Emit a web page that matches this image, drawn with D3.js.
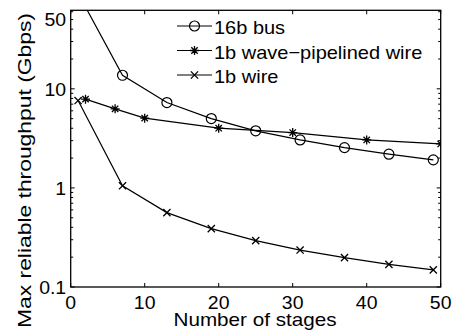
<!DOCTYPE html>
<html>
<head>
<meta charset="utf-8">
<script src="https://cdn.jsdelivr.net/npm/d3@7"></script>
<style>
  body { margin: 0; background: #fff; }
  text { font-family: "Liberation Sans", Arial, sans-serif; fill: #000; }
</style>
</head>
<body>
<svg id="chart" width="454" height="333"></svg>
<script>
// data
const busStages = [1, 7, 13, 19, 25, 31, 37, 43, 49];
const busValues = [92, 13.7, 7.27, 5.01, 3.77, 3.05, 2.55, 2.19, 1.92];
const waveStages = [2, 6, 10, 20, 30, 40, 50];
const waveValues = [7.87, 6.28, 5.06, 4.01, 3.62, 3.05, 2.78];
const wireStages = [1, 7, 13, 19, 25, 31, 37, 43, 49];
const wireValues = [7.62, 1.05, 0.563, 0.388, 0.294, 0.236, 0.198, 0.169, 0.149];
const xTicks = [0, 10, 20, 30, 40, 50];
const yTickLabels = [0.1, 1, 10, 50];
const seriesNames = ["16b bus", "1b wave\u2212pipelined wire", "1b wire"];

const svg = d3.select("#chart");
const pLeft = 70.7, pRight = 440.7, pTop = 10.3, pBottom = 287;
const stretch = 1.08; // reference text is a little wider than Arial

const x = d3.scaleLinear().domain([0, 50]).range([pLeft, pRight]);
const y = d3.scaleLog().domain([0.1, 62]).range([pBottom, pTop]);

function widen(sel) {
  sel.each(function() {
    let w = this.getComputedTextLength();
    d3.select(this).attr("textLength", w * stretch).attr("lengthAdjust", "spacingAndGlyphs");
  });
}

// minor log ticks 2..9 per decade, plus majors
let yMinor = [];
[0.1, 1, 10].forEach(d => { for (let k = 1; k <= 9; k++) if (d * k <= 62) yMinor.push(d * k); });

const axes = svg.append("g");
// ticks (inside, on all four sides)
xTicks.forEach(t => {
  axes.append("line").attr("x1", x(t)).attr("x2", x(t)).attr("y1", pBottom).attr("y2", pBottom - 4)
    .attr("stroke", "#000");
  axes.append("line").attr("x1", x(t)).attr("x2", x(t)).attr("y1", pTop).attr("y2", pTop + 4)
    .attr("stroke", "#000");
});
yMinor.forEach((t, i) => {
  let major = i % 9 === 0;
  let len = major ? 4 : 2.5;
  axes.append("line").attr("x1", pLeft).attr("x2", pLeft + len).attr("y1", y(t)).attr("y2", y(t))
    .attr("stroke", "#000");
  axes.append("line").attr("x1", pRight).attr("x2", pRight - len).attr("y1", y(t)).attr("y2", y(t))
    .attr("stroke", "#000");
});
axes.append("rect").attr("x", pLeft).attr("y", pTop).attr("width", pRight - pLeft).attr("height", pBottom - pTop)
  .attr("fill", "none").attr("stroke", "#000").attr("stroke-width", 1.3);

// tick labels
axes.selectAll(".xl").data(xTicks).enter().append("text")
  .attr("x", d => x(d)).attr("y", 309)
  .attr("text-anchor", "middle").attr("font-size", 18).text(d => d).call(widen);
axes.selectAll(".yl").data(yTickLabels).enter().append("text")
  .attr("x", pLeft - 4.5).attr("y", d => y(d) + 6.7)
  .attr("text-anchor", "end").attr("font-size", 18).text(d => d).call(widen);

// axis titles
svg.append("text").attr("x", 255).attr("y", 326)
  .attr("text-anchor", "middle").attr("font-size", 18.5).text("Number of stages")
  .attr("textLength", 163).attr("lengthAdjust", "spacingAndGlyphs");
svg.append("text").attr("transform", "translate(30.5,170.5) rotate(-90)")
  .attr("text-anchor", "middle").attr("font-size", 19).text("Max reliable throughput (Gbps)")
  .attr("textLength", 315).attr("lengthAdjust", "spacingAndGlyphs");

// clip
svg.append("clipPath").attr("id", "plotClip").append("rect")
  .attr("x", pLeft).attr("y", pTop).attr("width", pRight - pLeft).attr("height", pBottom - pTop);

const line = d3.line().x(d => x(d[0])).y(d => y(d[1]));
const plot = svg.append("g").attr("clip-path", "url(#plotClip)");

function circleMarker(g, cx, cy) {
  g.append("circle").attr("cx", cx).attr("cy", cy).attr("r", 5)
    .attr("fill", "none").attr("stroke", "#000").attr("stroke-width", 1.2);
}
function starMarker(g, cx, cy) {
  const s = 4.5, d = 3.2;
  g.append("path").attr("d",
    `M${cx - s},${cy}L${cx + s},${cy}M${cx},${cy - s}L${cx},${cy + s}` +
    `M${cx - d},${cy - d}L${cx + d},${cy + d}M${cx - d},${cy + d}L${cx + d},${cy - d}`)
    .attr("stroke", "#000").attr("stroke-width", 1.3);
}
function crossMarker(g, cx, cy) {
  const d = 3.6;
  g.append("path").attr("d",
    `M${cx - d},${cy - d}L${cx + d},${cy + d}M${cx - d},${cy + d}L${cx + d},${cy - d}`)
    .attr("stroke", "#000").attr("stroke-width", 1.3);
}

const series = [
  { stages: busStages, values: busValues, marker: circleMarker },
  { stages: waveStages, values: waveValues, marker: starMarker },
  { stages: wireStages, values: wireValues, marker: crossMarker }
];

series.forEach(s => {
  const pts = d3.zip(s.stages, s.values);
  plot.append("path").attr("d", line(pts)).attr("fill", "none")
    .attr("stroke", "#000").attr("stroke-width", 1.2);
  pts.forEach(p => s.marker(plot, x(p[0]), y(p[1])));
});

// legend
const legendY = [26, 50.5, 75];
series.forEach((s, i) => {
  const ly = legendY[i];
  svg.append("line").attr("x1", 177).attr("x2", 212).attr("y1", ly).attr("y2", ly)
    .attr("stroke", "#000").attr("stroke-width", 1.2);
  s.marker(svg, 194.5, ly);
  svg.append("text").attr("x", 214).attr("y", ly + 8).attr("font-size", 18.5)
    .text(seriesNames[i]).call(widen);
});
</script>
</body>
</html>
